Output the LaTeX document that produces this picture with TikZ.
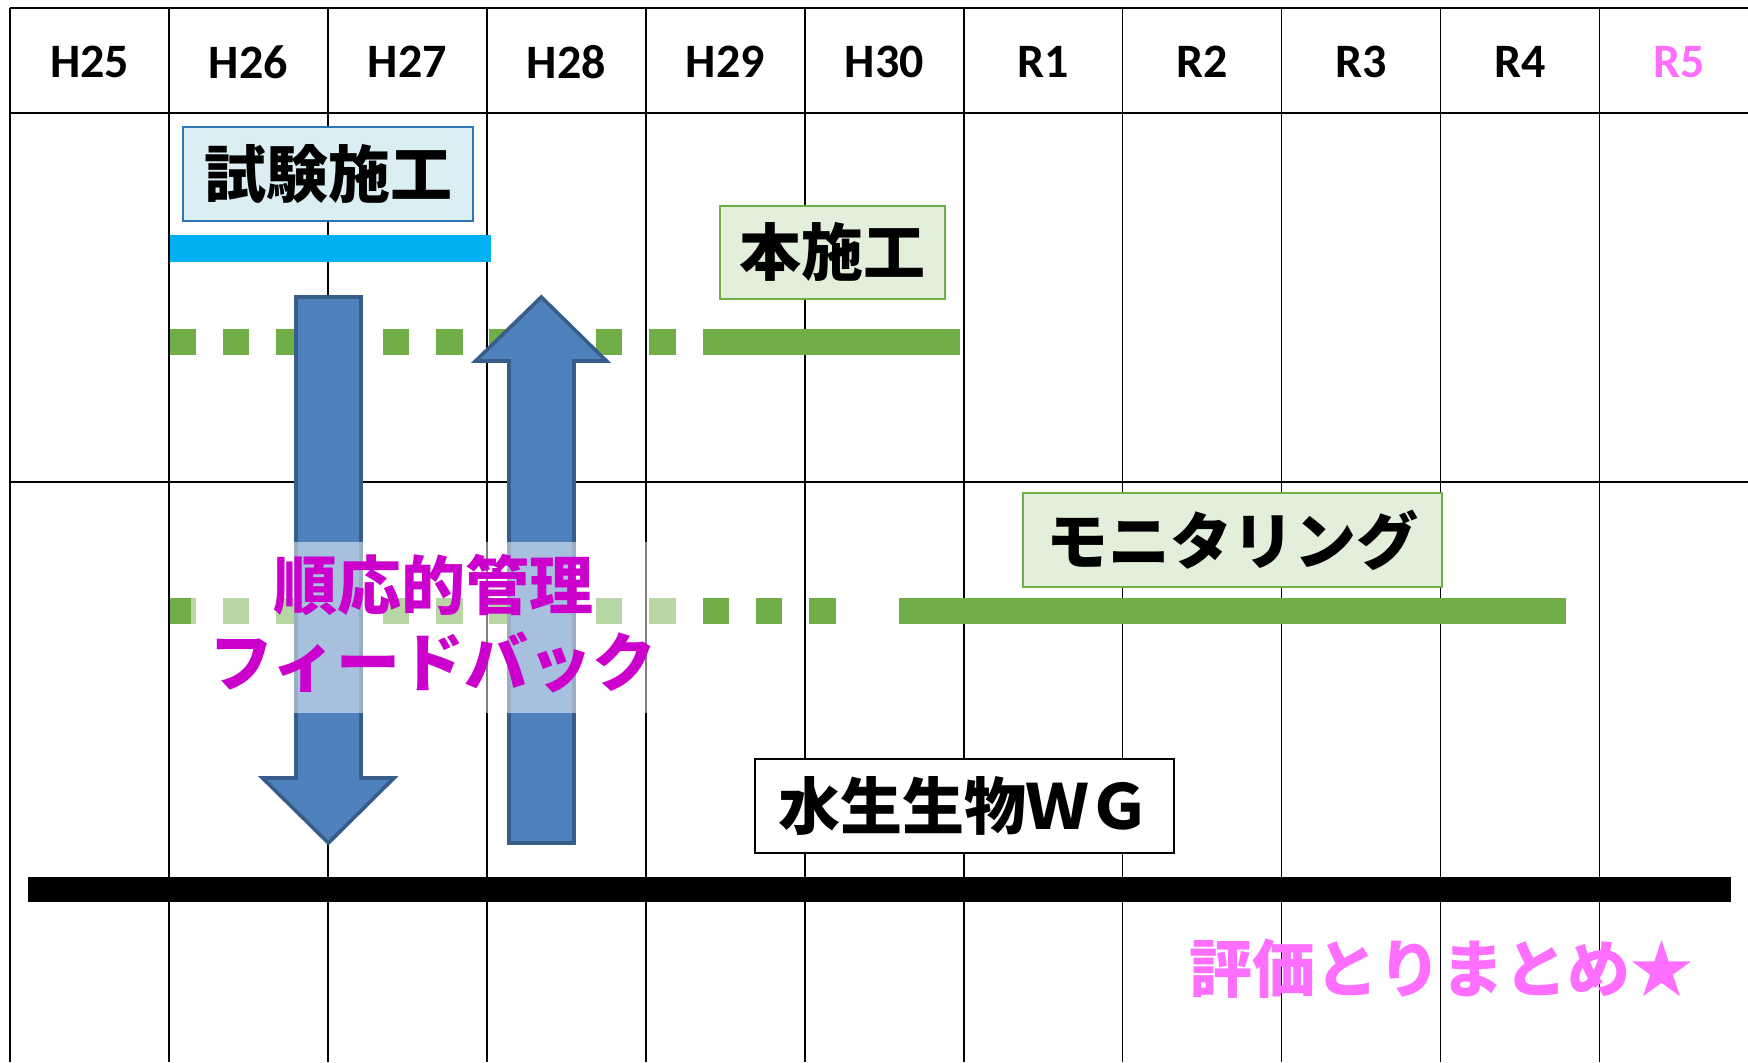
\documentclass[tikz,border=0pt]{standalone}
\usepackage{fontspec}
\setmainfont{Carlito}
\newfontfamily\jp{Noto Sans CJK JP}
\definecolor{grn}{HTML}{70AD47}
\definecolor{grnfill}{HTML}{E2EFDA}
\definecolor{bluefill}{HTML}{DAEEF3}
\definecolor{blueedge}{HTML}{2E75B6}
\definecolor{cyanbar}{HTML}{00B0F0}
\definecolor{arrfill}{HTML}{4F81BD}
\definecolor{arredge}{HTML}{385D8A}
\definecolor{pinkt}{HTML}{FF6FFF}
\definecolor{magt}{HTML}{CC00CC}
\begin{document}
\begin{tikzpicture}[x=0.5pt,y=-0.5pt,
  gridline/.style={line width=0.8pt,black},
  hdr/.style={inner sep=0pt,font=\fontsize{24}{28}\selectfont\bfseries},
  labelbox/.style={line width=1pt,inner sep=0pt,minimum height=46.7pt,
     font={\jp\bfseries\fontsize{31}{36}\selectfont}},
  dotbar/.style={grn,line width=13pt,dash pattern=on 13.25pt off 13.4pt},
  solidbar/.style={grn,line width=13pt},
  bigarrow/.style={fill=arrfill,draw=arredge,line width=1.8pt,line join=miter},
  magtext/.style={inner sep=0pt,text=magt,font={\jp\bfseries\fontsize{32}{38}\selectfont}},
  pinktext/.style={inner sep=0pt,text=pinkt,font={\jp\bfseries\fontsize{31.5}{38}\selectfont}}
]
\useasboundingbox (0,0) rectangle (1748,1062);
\fill[white] (0,0) rectangle (1748,1062);

% grid
\foreach \k in {0,...,10}
  \draw[gridline] ({10+158.95*\k},8) -- ({10+158.95*\k},1062);
\draw[gridline] (10,8) -- (1748,8);
\draw[gridline] (10,113) -- (1748,113);
\draw[gridline] (10,482) -- (1748,482);

% header
\foreach \t [count=\i] in {H25,H26,H27,H28,H29,H30,R1,R2,R3,R4}
  \node[hdr] (h\i) at ({10+158.95*(\i-0.5)},62) {\t};
\node[hdr,text=pinkt] (h11) at ({10+158.95*10.5},62) {R5};

% bars
\fill[cyanbar] (169.5,235) rectangle (491,262);
\draw[dotbar] (169.5,342) -- (676,342);
\draw[solidbar] (702.5,342) -- (959.5,342);
\draw[dotbar] (169.5,611) -- (836,611);
\draw[solidbar] (899,611) -- (1566,611);
\fill[black] (28,877) rectangle (1731,902);

% feedback arrows
\draw[bigarrow] (296,297) -- (361,297) -- (361,778) -- (394,778) -- (328.4,843)
  -- (262.5,778) -- (296,778) -- cycle;
\draw[bigarrow] (541.3,297) -- (606.5,361) -- (574,361) -- (574,843) -- (509,843)
  -- (509,361) -- (475.5,361) -- cycle;

% translucent panel behind the feedback text
\fill[white,opacity=0.5] (191,541.7) rectangle (690,713.3);

% labelled boxes
\node[labelbox,fill=bluefill,draw=blueedge,minimum width=145pt] (shiken) at (328,174) {試験施工};
\node[labelbox,fill=grnfill,draw=grn,minimum width=112.7pt] (hon) at (832.3,252.4) {本施工};
\node[labelbox,fill=grnfill,draw=grn,minimum width=209.7pt] (mon) at (1232.7,540) {モニタリング};
\node[labelbox,fill=white,draw=black,minimum width=209.7pt] (wg) at (964.3,805.8) {水生生物ＷＧ};

% texts
\node[magtext] (jun) at (433,585) {順応的管理};
\node[magtext] (fb) at (433,662) {フィードバック};
\node[pinktext] (hyoka) at (1441.7,969) {評価とりまとめ★};
\end{tikzpicture}
\end{document}
